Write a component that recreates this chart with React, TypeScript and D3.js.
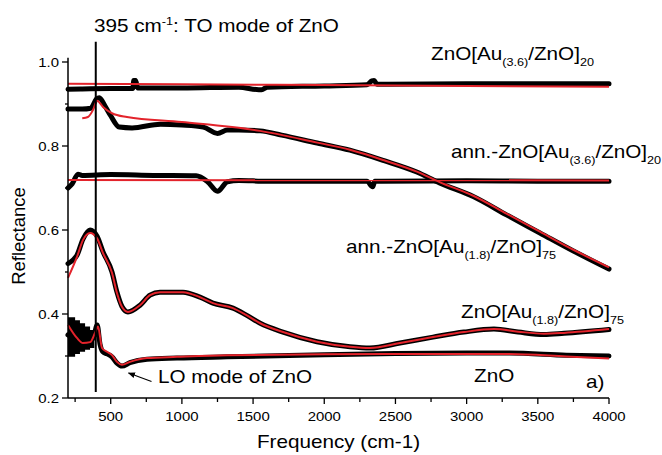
import React from 'react';
import * as d3 from 'd3';

// frequency (cm-1) / reflectance readings, black = measured, red = fit
const freqA = [200, 300, 500, 655, 662, 675, 690, 1000, 1400, 1540, 1560, 1600, 2000, 2300, 2335, 2350, 2370, 2450, 3000, 3500, 4000];
const measA = [0.935, 0.936, 0.937, 0.937, 0.956, 0.956, 0.938, 0.938, 0.94, 0.934, 0.934, 0.94, 0.943, 0.946, 0.955, 0.956, 0.947, 0.947, 0.948, 0.948, 0.948];
const fitAFreq = [200, 1000, 2000, 3000, 4000];
const fitA = [0.948, 0.947, 0.945, 0.943, 0.941];

const freqB = [200, 300, 360, 400, 420, 460, 500, 560, 650, 850, 1000, 1150, 1250, 1320, 1400, 1550, 1700, 1950, 2180, 2420, 2650, 2810, 3050, 3280, 3515, 3750, 4000];
const measB = [0.888, 0.888, 0.89, 0.912, 0.915, 0.895, 0.872, 0.845, 0.843, 0.852, 0.85, 0.845, 0.83, 0.838, 0.838, 0.836, 0.826, 0.807, 0.79, 0.765, 0.738, 0.712, 0.679, 0.636, 0.593, 0.55, 0.507];
const fitBFreq = [300, 340, 376, 404, 446, 509, 614, 1000, 1549, 1950, 2180, 2420, 2650, 2810, 3050, 3280, 3515, 3750, 4000];
const fitB = [0.866, 0.869, 0.886, 0.908, 0.893, 0.878, 0.869, 0.857, 0.836, 0.808, 0.791, 0.766, 0.739, 0.714, 0.681, 0.639, 0.596, 0.553, 0.511];

const freqC = [200, 230, 270, 300, 500, 800, 1100, 1180, 1250, 1320, 1400, 1600, 2000, 2300, 2340, 2355, 2400, 3000, 3500, 4000];
const measC = [0.7, 0.71, 0.733, 0.73, 0.732, 0.73, 0.729, 0.715, 0.692, 0.715, 0.718, 0.716, 0.716, 0.716, 0.703, 0.716, 0.716, 0.717, 0.716, 0.716];
const fitCFreq = [200, 4000];
const fitC = [0.719, 0.718];

const freqD = [200, 240, 263, 305, 355, 404, 446, 509, 544, 579, 621, 706, 776, 846, 1008, 1127, 1218, 1359, 1450, 1550, 1710, 1949, 2181, 2321, 2532, 2764, 2981, 3192, 3361, 3543, 3684, 4000];
const measD = [0.52, 0.53, 0.54, 0.578, 0.6, 0.585, 0.548, 0.5, 0.452, 0.418, 0.405, 0.421, 0.445, 0.452, 0.452, 0.44, 0.426, 0.414, 0.398, 0.378, 0.357, 0.334, 0.322, 0.319, 0.331, 0.345, 0.357, 0.364, 0.357, 0.351, 0.354, 0.363];
const fitDFreq = [200, 263, 305, 355, 404, 446, 509, 544, 579, 621, 706, 776, 846, 1008, 1127, 1218, 1359, 1450, 1550, 1710, 1949, 2181, 2321, 2532, 2764, 2981, 3192, 3361, 3543, 3684, 4000];
const fitD = [0.486, 0.536, 0.576, 0.593, 0.58, 0.545, 0.498, 0.45, 0.417, 0.405, 0.421, 0.445, 0.452, 0.452, 0.44, 0.426, 0.414, 0.398, 0.378, 0.357, 0.334, 0.322, 0.319, 0.331, 0.345, 0.357, 0.364, 0.358, 0.353, 0.355, 0.364];

const freqE = [200, 250, 300, 350, 380, 405, 425, 445, 474, 509, 544, 579, 635, 755, 966, 1317, 2000, 2500, 3000, 3300, 3700, 4000];
const measE = [0.35, 0.34, 0.335, 0.335, 0.345, 0.374, 0.328, 0.31, 0.305, 0.298, 0.283, 0.276, 0.284, 0.292, 0.295, 0.298, 0.303, 0.306, 0.307, 0.307, 0.302, 0.3];
const noiseFreq = [200, 250, 284, 320, 355, 385];
const noiseHigh = [0.392, 0.385, 0.378, 0.37, 0.362, 0.352];
const noiseLow = [0.298, 0.305, 0.31, 0.315, 0.319, 0.325];
const fitEFreq = [200, 263, 305, 355, 390, 411, 439, 474, 509, 544, 579, 635, 755, 966, 1317, 2000, 3000, 3300, 3700, 4000];
const fitE = [0.374, 0.343, 0.331, 0.333, 0.355, 0.37, 0.319, 0.31, 0.302, 0.286, 0.279, 0.286, 0.295, 0.298, 0.302, 0.304, 0.305, 0.305, 0.299, 0.294];

const xMajor = [500, 1000, 1500, 2000, 2500, 3000, 3500, 4000];
const xMinor = [250, 750, 1250, 1750, 2250, 2750, 3250, 3750];
const yMajor = [0.2, 0.4, 0.6, 0.8, 1.0];
const yMinor = [0.3, 0.5, 0.7, 0.9];
const toFreq = 395;

const W = 662;
const H = 455;
const FONT = '"Liberation Sans", Arial, Helvetica, sans-serif';
const SX = 1.15; // text looks horizontally stretched in the reference
const RED = '#e3232b';

const x = d3.scaleLinear().domain([200, 4000]).range([68, 609]);
const y = d3.scaleLinear().domain([0.2, 1.01]).range([398, 57.8]);

const line = d3.line<[number, number]>()
  .x(d => x(d[0]))
  .y(d => y(d[1]))
  .curve(d3.curveMonotoneX);

const zip = (f: number[], v: number[]) => f.map((q, i) => [q, v[i]] as [number, number]);

const noiseArea = d3.area<number>()
  .x(i => x(noiseFreq[i]))
  .y0(i => y(noiseLow[i]))
  .y1(i => y(noiseHigh[i]))
  .curve(d3.curveStepAfter);

const Txt = ({ x: tx, y: ty, size, anchor = 'start', children }: any) => (
  <text transform={`translate(${tx},${ty}) scale(${SX},1)`} fontSize={size} textAnchor={anchor} fontFamily={FONT} fill="#000">
    {children}
  </text>
);

const Sample = ({ x: tx, y: ty, pre, sub1, sub2 }: any) => (
  <Txt x={tx} y={ty} size={18}>
    {pre}
    <tspan fontSize={11} dy={6}>{sub1}</tspan>
    <tspan dy={-6}>/ZnO]</tspan>
    <tspan fontSize={11} dy={6}>{sub2}</tspan>
  </Txt>
);

export default function App() {
  const measured = [zip(freqA, measA), zip(freqB, measB), zip(freqC, measC), zip(freqD, measD), zip(freqE, measE)];
  const fits = [zip(fitAFreq, fitA), zip(fitBFreq, fitB), zip(fitCFreq, fitC), zip(fitDFreq, fitD), zip(fitEFreq, fitE)];

  return (
    <div style={{ position: 'absolute', left: 0, top: 0 }}>
      <svg width={W} height={H} style={{ display: 'block', background: '#fff' }}>
        <defs>
          <marker id="arr" viewBox="0 0 10 10" refX="9" refY="5" markerWidth="6" markerHeight="6" orient="auto">
            <path d="M0,1 L10,5 L0,9 z" fill="#000" />
          </marker>
        </defs>

        {/* measured */}
        <path d={noiseArea(d3.range(noiseFreq.length)) || ''} fill="#000" />
        {measured.map((s, i) => (
          <path key={'m' + i} d={line(s) || ''} fill="none" stroke="#000" strokeWidth={5} strokeLinejoin="round" strokeLinecap="round" />
        ))}
        {/* fits */}
        {fits.map((s, i) => (
          <path key={'f' + i} d={line(s) || ''} fill="none" stroke={RED} strokeWidth={2} />
        ))}

        {/* TO mode marker */}
        <line x1={x(toFreq)} x2={x(toFreq)} y1={y(1.048)} y2={y(0.214)} stroke="#000" strokeWidth={2} />

        {/* axes */}
        <line x1={x(200)} x2={x(200)} y1={y(1.01)} y2={y(0.2)} stroke="#000" strokeWidth={1.5} />
        <line x1={x(200)} x2={x(4000)} y1={y(0.2)} y2={y(0.2)} stroke="#000" strokeWidth={1.5} />
        {yMajor.map(v => (
          <g key={'ym' + v}>
            <line x1={x(200) - 6} x2={x(200)} y1={y(v)} y2={y(v)} stroke="#000" strokeWidth={1.3} />
            <Txt x={x(200) - 9} y={y(v) + 5} size={13} anchor="end">{v.toFixed(1)}</Txt>
          </g>
        ))}
        {yMinor.map(v => (
          <line key={'yn' + v} x1={x(200) - 3} x2={x(200)} y1={y(v)} y2={y(v)} stroke="#000" strokeWidth={1.3} />
        ))}
        {xMajor.map(f => (
          <g key={'xm' + f}>
            <line x1={x(f)} x2={x(f)} y1={y(0.2)} y2={y(0.2) + 6} stroke="#000" strokeWidth={1.3} />
            <Txt x={x(f)} y={421} size={13} anchor="middle">{f}</Txt>
          </g>
        ))}
        {xMinor.map(f => (
          <line key={'xn' + f} x1={x(f)} x2={x(f)} y1={y(0.2)} y2={y(0.2) + 4} stroke="#000" strokeWidth={1.3} />
        ))}

        <Txt x={338.5} y={448} size={18} anchor="middle">Frequency (cm-1)</Txt>
        <text transform="translate(25,236) rotate(-90)" fontSize={18.5} textAnchor="middle" fontFamily={FONT}>Reflectance</text>

        {/* annotations */}
        <Txt x={94} y={32} size={18}>
          395 cm<tspan fontSize={11} dy={-7}>-1</tspan><tspan dy={7}>: TO mode of ZnO</tspan>
        </Txt>
        <Sample x={431} y={60} pre="ZnO[Au" sub1="(3.6)" sub2="20" />
        <Sample x={451} y={158} pre="ann.-ZnO[Au" sub1="(3.6)" sub2="20" />
        <Sample x={346} y={253} pre="ann.-ZnO[Au" sub1="(1.8)" sub2="75" />
        <Sample x={461} y={318} pre="ZnO[Au" sub1="(1.8)" sub2="75" />
        <Txt x={474} y={382} size={18}>ZnO</Txt>
        <Txt x={586} y={388} size={18}>a)</Txt>
        <Txt x={158} y={383} size={18}>LO mode of ZnO</Txt>
        <line x1={151.5} y1={381.5} x2={128.5} y2={373} stroke="#000" strokeWidth={1.2} markerEnd="url(#arr)" />
      </svg>
    </div>
  );
}
